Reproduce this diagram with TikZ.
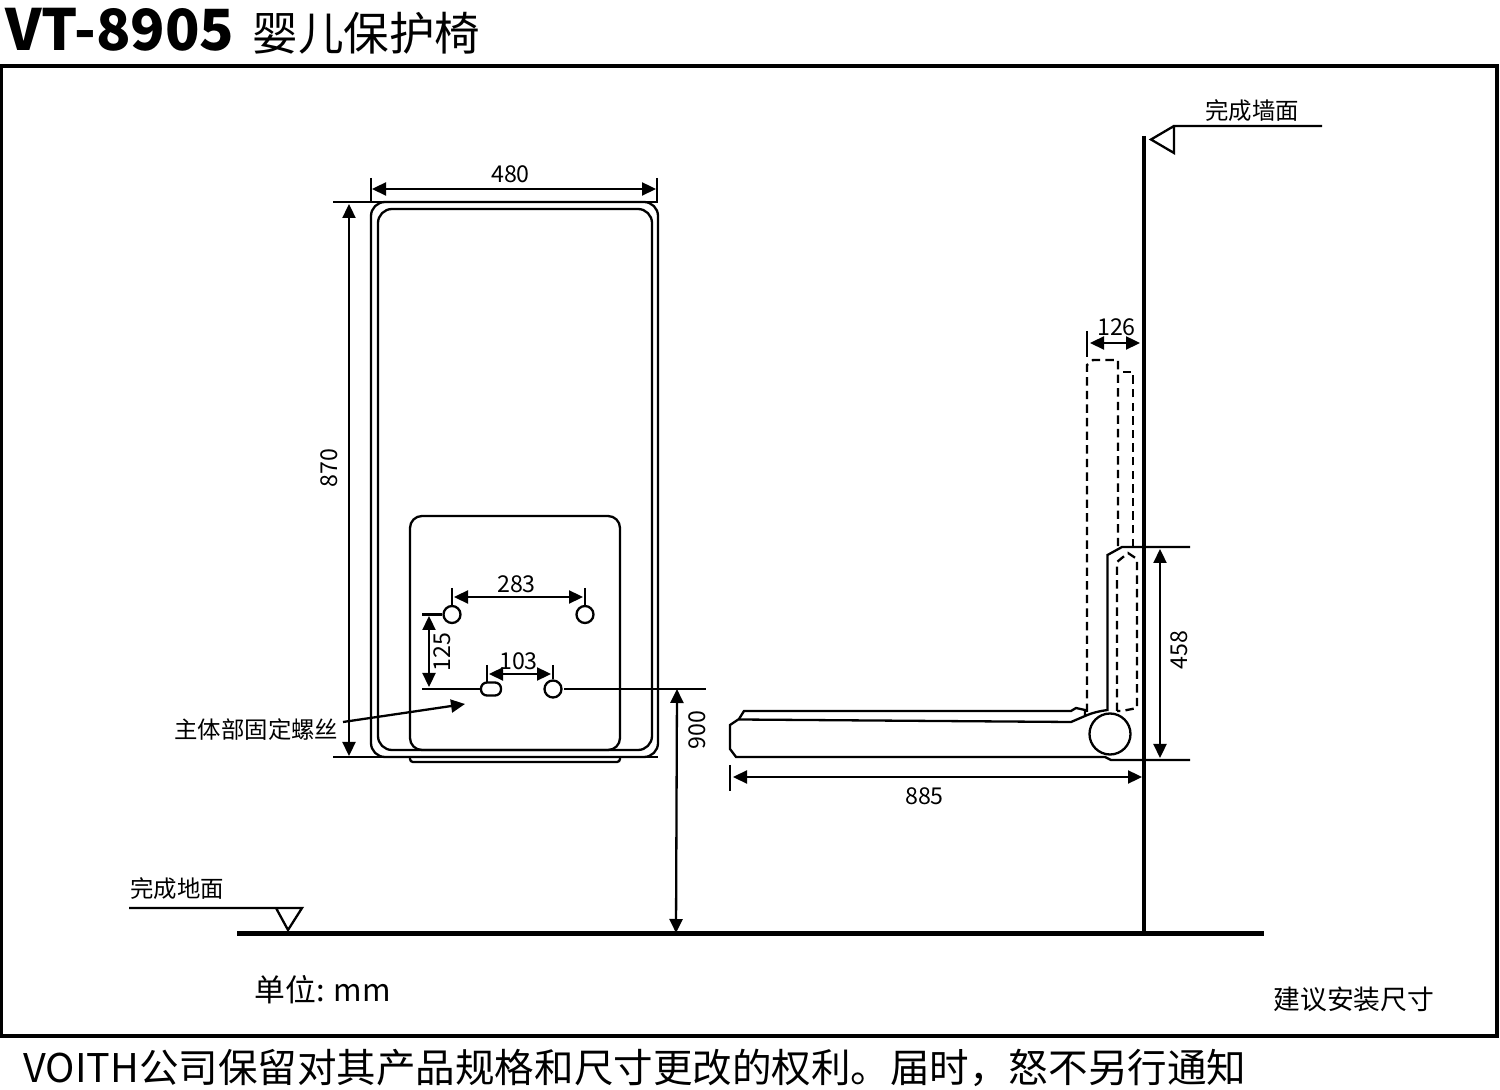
\documentclass[tikz,border=0pt]{standalone}
\usepackage{fontspec}
\setmainfont{Noto Sans CJK SC}
\usetikzlibrary{arrows.meta}
\tikzset{
  ln/.style={line width=1.15pt,line join=miter},
  dim/.style={line width=1.15pt,{Triangle[length=7pt,width=6.5pt]}-{Triangle[length=7pt,width=6.5pt]}},
  arr/.style={line width=1.15pt,-{Triangle[length=7pt,width=6.5pt]}},
  dsh/.style={line width=1.15pt,dash pattern=on 4.2pt off 2.6pt},
  lab/.style={inner sep=0pt,font=\fontsize{11.6pt}{13pt}\selectfont},
  note/.style={inner sep=0pt,anchor=west,font=\fontsize{11.7pt}{13pt}\selectfont},
}
\begin{document}
\begin{tikzpicture}[x=0.5pt,y=-0.5pt]
\useasboundingbox (0,0) rectangle (1500,1090);
% frame
\draw[line width=2.4pt] (1,66) rectangle (1497,1036);
% title
\node[inner sep=0pt,anchor=west,font=\bfseries\fontsize{28.4pt}{32pt}\selectfont] (title) at (5,30) {VT-8905};
\node[inner sep=0pt,anchor=west,font=\fontsize{22.8pt}{26pt}\selectfont] (titlecn) at (252,33) {婴儿保护椅};
\node[inner sep=0pt,anchor=west,font=\fontsize{19.77pt}{22pt}\selectfont] (footer) at (23,1068) {VOITH公司保留对其产品规格和尺寸更改的权利。届时，怒不另行通知};
\node[inner sep=0pt,anchor=west,font=\fontsize{15.4pt}{18pt}\selectfont] (unit) at (254,990) {单位: mm};
\node[inner sep=0pt,anchor=west,font=\fontsize{13.4pt}{16pt}\selectfont] (advice) at (1273,999) {建议安装尺寸};
% front view
\draw[ln] (371,178) -- (371,202);
\draw[ln,rounded corners=7pt] (371,202) rectangle (658,757);
\draw[ln,rounded corners=7pt] (378,209) rectangle (652,750);
\draw[ln,rounded corners=6pt] (410,516) rectangle (620,750);
\draw[ln,rounded corners=1.5pt] (410,757) -- (410,762) -- (620,762) -- (620,757);
\draw[ln] (333,202) -- (658,202);
\draw[ln] (333,757) -- (658,757);
\draw[ln] (657,178) -- (657,202);
\draw[dim] (372,189) -- (656,189);
\node[lab] (d480) at (510.5,174) {480};
\draw[dim] (349,204) -- (349,756);
\node[lab,rotate=90] (d870) at (329,468) {870};
% holes
\node[draw,ln,circle,minimum size=8.5pt,inner sep=0pt] (h1) at (452,614.5) {};
\node[draw,ln,circle,minimum size=8.5pt,inner sep=0pt] (h2) at (585,614.5) {};
\node[draw,ln,circle,minimum size=8.5pt,inner sep=0pt] (h4) at (553,689) {};
\node[draw,ln,rounded corners=3pt,minimum width=10pt,minimum height=6.5pt,inner sep=0pt] (h3) at (491,689) {};
\draw[ln] (452,588) -- (h1.north);
\draw[ln] (585,588) -- (h2.north);
\draw[dim] (454,597) -- (583,597);
\node[lab] (d283) at (516.5,584) {283};
\draw[ln] (422,614.5) -- (h1.west);
\draw[ln] (422,689) -- (h3.west);
\draw[dim] (429,616) -- (429,687);
\node[lab,rotate=90] (d125) at (442,652) {125};
\draw[ln] (487,665) -- (487,683);
\draw[ln] (553,665) -- (h4.north);
\draw[dim] (489,674) -- (551,674);
\node[lab] (d103) at (518.5,661) {103};
\draw[ln] (564,689) -- (706,689);
\draw[dim] (677,689) -- (676,933);
\node[lab,rotate=90] (d900) at (697,730) {900};
\node[note] (screw) at (174,730) {主体部固定螺丝};
\coordinate (screwtip) at (465,704);
\draw[arr] (343,722) -- (screwtip);
% ground
\draw[line width=2.1pt] (237,933.5) -- (1264,933.5);
\draw[ln] (129,908) -- (302,908) -- (288,930) -- (276,908);
\node[note] (floor) at (130,889) {完成地面};
% wall
\draw[line width=2.4pt] (1144,136) -- (1144,933);
\draw[ln] (1322,126) -- (1174,126) -- (1174,153) -- (1151,139.5) -- (1174,126);
\node[note] (wall) at (1205,111) {完成墙面};
% seat
\draw[ln] (1085,716) -- (1085,710) -- (1076,708) -- (1071,711) -- (744,711) -- (739,719) -- (730,725) -- (730,749) -- (736,757) -- (1105,757) -- (1111,760) -- (1190,760);
\draw[ln] (739,719.5) -- (1071,722) -- (1085,716) .. controls (1093,712.5) and (1100,711) .. (1107.5,710) -- (1107.5,555) -- (1122,547) -- (1190,547);
\node[draw,ln,circle,minimum size=20.5pt,inner sep=0pt] (pivot) at (1110,734) {};
% dashed folded
\draw[dsh] (1117,711) -- (1117,562) -- (1128,553) -- (1137,559) -- (1137,708) -- (1122,711) -- cycle;
\draw[dsh] (1087,712) -- (1087,365) -- (1093,360) -- (1118,360) -- (1118,547);
\draw[dsh] (1133,547) -- (1133,372) -- (1120,372);
% seat dims
\draw[dim] (1160,549) -- (1160,758);
\node[lab,rotate=90] (d458) at (1179,650) {458};
\draw[ln] (730,765) -- (730,791);
\draw[dim] (733,777) -- (1142,777);
\node[lab] (d885) at (924.5,796) {885};
\draw[ln] (1087,331) -- (1087,357);
\draw[dim] (1090,343) -- (1140,343);
\node[lab] (d126) at (1116.5,327) {126};
\end{tikzpicture}
\end{document}
